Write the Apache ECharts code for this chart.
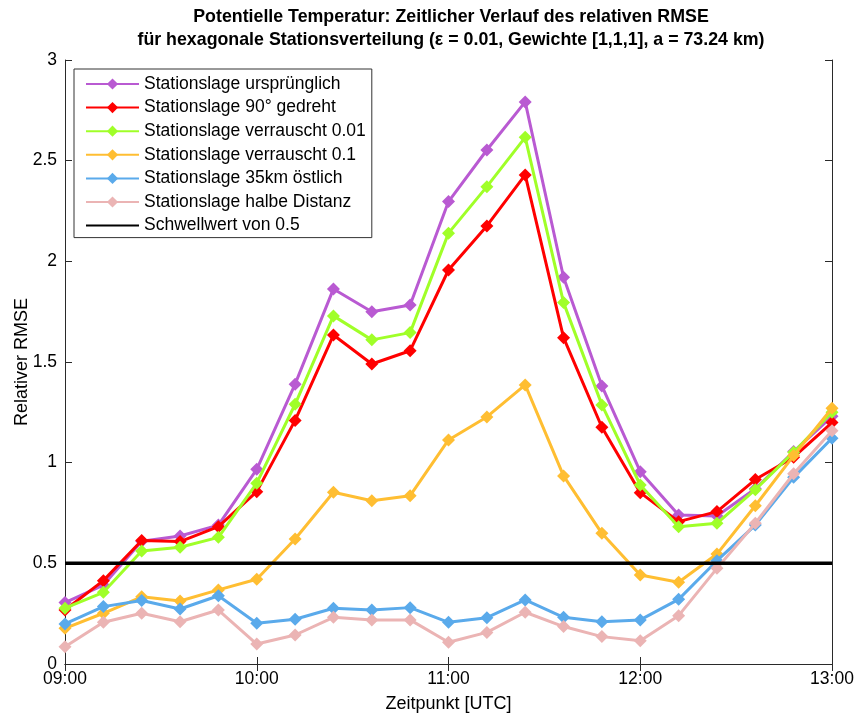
<!DOCTYPE html>
<html>
<head>
<meta charset="utf-8">
<script src="https://cdn.jsdelivr.net/npm/echarts@6/dist/echarts.min.js"></script>
<style>
  html, body { margin: 0; padding: 0; background: #ffffff; }
  #chart { width: 856px; height: 715px; }
</style>
</head>
<body>
<div id="chart"></div>
<script>
// Zeitpunkte (alle 12 Minuten)
const times = ['09:00','09:12','09:24','09:36','09:48','10:00','10:12','10:24','10:36','10:48',
               '11:00','11:12','11:24','11:36','11:48','12:00','12:12','12:24','12:36','12:48','13:00'];

const seriesNames = [
  'Stationslage ursprünglich',
  'Stationslage 90° gedreht',
  'Stationslage verrauscht 0.01',
  'Stationslage verrauscht 0.1',
  'Stationslage 35km östlich',
  'Stationslage halbe Distanz',
  'Schwellwert von 0.5'
];

const ursprung   = [0.305,0.392,0.610,0.636,0.690,0.967,1.390,1.863,1.750,1.783,2.297,2.553,2.792,1.921,1.381,0.955,0.740,0.735,0.870,1.055,1.230];
const gedreht    = [0.268,0.414,0.613,0.608,0.682,0.856,1.210,1.634,1.490,1.556,1.957,2.176,2.429,1.621,1.176,0.851,0.707,0.757,0.916,1.027,1.199];
const rausch001  = [0.277,0.356,0.561,0.580,0.629,0.898,1.290,1.729,1.610,1.646,2.140,2.371,2.616,1.795,1.287,0.889,0.682,0.699,0.866,1.052,1.250];
const rausch01   = [0.177,0.252,0.334,0.313,0.368,0.421,0.621,0.853,0.811,0.836,1.113,1.227,1.386,0.934,0.649,0.442,0.406,0.546,0.786,1.035,1.270];
const oestlich   = [0.199,0.285,0.315,0.273,0.339,0.202,0.222,0.277,0.268,0.280,0.207,0.230,0.318,0.232,0.210,0.219,0.321,0.513,0.690,0.927,1.121];
const halbe      = [0.086,0.207,0.252,0.210,0.268,0.099,0.144,0.232,0.219,0.219,0.108,0.157,0.257,0.186,0.136,0.116,0.240,0.475,0.699,0.945,1.159];
const schwelle   = [0.5,0.5,0.5,0.5,0.5,0.5,0.5,0.5,0.5,0.5,0.5,0.5,0.5,0.5,0.5,0.5,0.5,0.5,0.5,0.5,0.5];

const yTicks = [0, 0.5, 1, 1.5, 2, 2.5, 3];

const colors = ['#B95AD2', '#FF0000', '#A0FF28', '#FFBE32', '#5AAAEB', '#EBB4B4', '#000000'];
const values = [ursprung, gedreht, rausch001, rausch01, oestlich, halbe, schwelle];

const FONT = '"Liberation Sans", Arial, Helvetica, sans-serif';
const frameColor = '#2a2a2a';

const series = values.map((data, i) => {
  const isThreshold = i === values.length - 1;
  return {
    name: seriesNames[i],
    type: 'line',
    data: data,
    xAxisIndex: 0,
    yAxisIndex: 0,
    symbol: isThreshold ? 'none' : 'diamond',
    symbolSize: 13,
    showSymbol: !isThreshold,
    lineStyle: { width: isThreshold ? 3.5 : 3, color: colors[i] },
    // the threshold has no markers, so its legend entry shows the line only
    itemStyle: isThreshold
      ? { color: 'rgba(0,0,0,0)', borderWidth: 0 }
      : { color: colors[i] },
    emphasis: { disabled: true },
    animation: false,
    z: 2 + i
  };
});

const chart = echarts.init(document.getElementById('chart'), null, { renderer: 'canvas' });
chart.setOption({
  backgroundColor: '#ffffff',
  animation: false,
  title: {
    text: 'Potentielle Temperatur: Zeitlicher Verlauf des relativen RMSE\nfür hexagonale Stationsverteilung (ε = 0.01, Gewichte [1,1,1], a = 73.24 km)',
    left: 446,
    top: 1,
    textAlign: 'center',
    textStyle: { fontFamily: FONT, fontSize: 17.8, fontWeight: 'bold', color: '#000', lineHeight: 23 }
  },
  legend: {
    orient: 'vertical',
    left: 74,
    top: 69,
    padding: [6, 6, 3, 11],
    itemWidth: 53,
    itemHeight: 14,
    itemGap: 5.6,
    backgroundColor: '#ffffff',
    borderColor: '#333333',
    borderWidth: 1,
    data: seriesNames,
    textStyle: { fontFamily: FONT, fontSize: 17.5, color: '#000', lineHeight: 16 },
    selectedMode: false
  },
  grid: { left: 65, right: 24, top: 60, bottom: 51, containLabel: false, outerBoundsMode: 'none' },
  xAxis: [
    {
      type: 'category',
      data: times,
      boundaryGap: false,
      position: 'bottom',
      name: 'Zeitpunkt [UTC]',
      nameLocation: 'middle',
      nameGap: 31,
      nameTextStyle: { fontFamily: FONT, fontSize: 18, color: '#000' },
      axisLine: { show: true, lineStyle: { color: frameColor, width: 1 } },
      axisTick: { show: true, inside: true, length: 7, interval: 4, lineStyle: { color: frameColor } },
      axisLabel: { interval: 4, margin: 6, fontFamily: FONT, fontSize: 17.5, color: '#000' },
      splitLine: { show: false }
    },
    {
      type: 'category',
      data: times,
      boundaryGap: false,
      position: 'top',
      axisLine: { show: true, lineStyle: { color: frameColor, width: 1 } },
      axisTick: { show: true, inside: true, length: 7, interval: 4, lineStyle: { color: frameColor } },
      axisLabel: { show: false },
      splitLine: { show: false }
    }
  ],
  yAxis: [
    {
      type: 'value',
      min: 0,
      max: 3,
      interval: 0.5,
      position: 'left',
      name: 'Relativer RMSE',
      nameLocation: 'middle',
      nameGap: 34,
      nameMoveOverlap: false,
      nameTextStyle: { fontFamily: FONT, fontSize: 18, color: '#000' },
      axisLine: { show: true, lineStyle: { color: frameColor, width: 1 } },
      axisTick: { show: true, inside: true, length: 7, lineStyle: { color: frameColor } },
      axisLabel: {
        margin: 8, fontFamily: FONT, fontSize: 17.5, color: '#000',
        formatter: v => (yTicks.includes(v) ? String(v) : '')
      },
      splitLine: { show: false }
    },
    {
      type: 'value',
      min: 0,
      max: 3,
      interval: 0.5,
      position: 'right',
      axisLine: { show: true, lineStyle: { color: frameColor, width: 1 } },
      axisTick: { show: true, inside: true, length: 7, lineStyle: { color: frameColor } },
      axisLabel: { show: false },
      splitLine: { show: false }
    }
  ],
  series: series
});
</script>
</body>
</html>
